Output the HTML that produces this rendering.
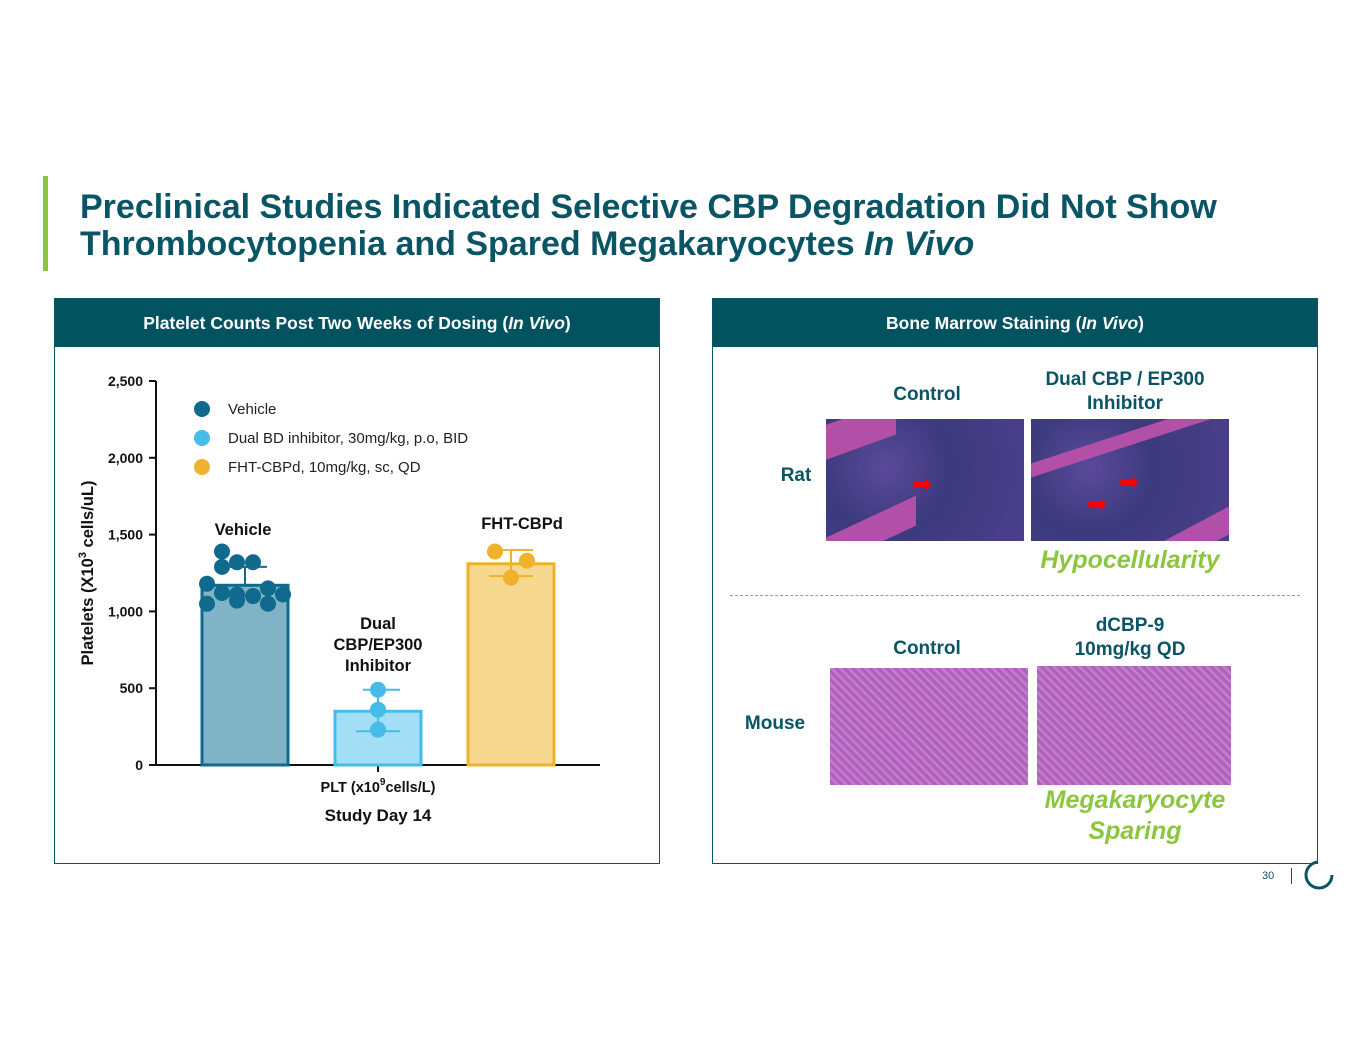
<!DOCTYPE html>
<html><head><meta charset="utf-8"><style>
body{margin:0;width:1365px;height:1055px;background:#fff;font-family:"Liberation Sans",sans-serif;position:relative;overflow:hidden}
.abs{position:absolute}
.title{left:80px;top:189px;font-size:34px;font-weight:bold;color:#0a5565;line-height:37px;white-space:nowrap}
.panel{border:1.5px solid #0a5565;box-sizing:border-box}
.hdr{background:#03525f;color:#fff;font-weight:bold;font-size:17.5px;text-align:center;line-height:48px}
.lbl{color:#0a5565;font-weight:bold;font-size:19px;text-align:center;line-height:24px}
.green{color:#8cc63f;font-weight:bold;font-style:italic;font-size:25px;text-align:center;line-height:31px}
.rat{overflow:hidden;background:radial-gradient(circle at 30% 40%,#5a4a9a 0,#3d3a7e 40%,#4a3f8a 100%)}
.mouse{background:repeating-linear-gradient(45deg,#c277cc 0,#a95ab9 3px,#cf8ad4 6px)}
</style></head><body>
<div class="abs" style="left:43px;top:176px;width:5px;height:95px;background:#8cc63f"></div>
<div class="abs title">Preclinical Studies Indicated Selective CBP Degradation Did Not Show<br>Thrombocytopenia and Spared Megakaryocytes <i>In Vivo</i></div>

<div class="abs panel" style="left:54px;top:298px;width:606px;height:566px">
<div class="hdr">Platelet Counts Post Two Weeks of Dosing (<i>In Vivo</i>)</div>
</div>
<svg class="abs" style="left:0;top:0" width="700" height="870" id="chart" font-family="Liberation Sans, sans-serif"></svg>

<div class="abs panel" style="left:712px;top:298px;width:606px;height:566px">
<div class="hdr">Bone Marrow Staining (<i>In Vivo</i>)</div>
</div>
<div class="abs lbl" style="left:867px;top:383px;width:120px">Control</div>
<div class="abs lbl" style="left:1020px;top:368px;width:210px">Dual CBP / EP300<br>Inhibitor</div>
<div class="abs lbl" style="left:766px;top:464px;width:60px">Rat</div>
<div class="abs rat" style="left:826px;top:419px;width:198px;height:122px"><div style="position:absolute;left:-10px;top:-5px;width:80px;height:35px;background:#b24fa6;transform:skewY(-20deg)"></div><div style="position:absolute;left:-10px;bottom:-8px;width:100px;height:30px;background:#b24fa6;transform:skewY(-25deg)"></div><div style="position:absolute;left:86px;top:56px;color:red;font-size:24px;line-height:20px">➡</div></div>
<div class="abs rat" style="left:1031px;top:419px;width:198px;height:122px"><div style="position:absolute;left:-10px;top:12px;width:220px;height:14px;background:#b24fa6;transform:skewY(-18deg)"></div><div style="position:absolute;right:-10px;bottom:-12px;width:90px;height:28px;background:#b24fa6;transform:skewY(-28deg)"></div><div style="position:absolute;left:88px;top:54px;color:red;font-size:24px;line-height:20px">➡</div><div style="position:absolute;left:56px;top:76px;color:red;font-size:24px;line-height:20px">➡</div></div>
<div class="abs green" style="left:1020px;top:545px;width:220px">Hypocellularity</div>
<div class="abs" style="left:730px;top:595px;width:570px;border-top:1.5px dashed #999"></div>
<div class="abs lbl" style="left:867px;top:637px;width:120px">Control</div>
<div class="abs lbl" style="left:1030px;top:614px;width:200px">dCBP-9<br>10mg/kg QD</div>
<div class="abs lbl" style="left:740px;top:712px;width:70px">Mouse</div>
<div class="abs mouse" style="left:830px;top:668px;width:198px;height:117px"></div>
<div class="abs mouse" style="left:1037px;top:666px;width:194px;height:119px"></div>
<div class="abs green" style="left:1020px;top:785px;width:230px">Megakaryocyte<br>Sparing</div>

<div class="abs" style="left:1262px;top:870px;font-size:11px;color:#0a5565">30</div>
<div class="abs" style="left:1291px;top:868px;width:1px;height:16px;background:#0a5565"></div>
<svg class="abs" style="left:1300px;top:858px" width="36" height="34"><circle cx="19" cy="17" r="13" fill="none" stroke="#0a5565" stroke-width="3" stroke-dasharray="60 22"/></svg>

<script>
const categories=["Vehicle","Dual CBP/EP300 Inhibitor","FHT-CBPd"];
const means=[1170,350,1310];
const errLow=[1170,220,1230];
const errHigh=[1290,490,1400];
const vehiclePts=[1390,1290,1320,1320,1180,1120,1110,1100,1150,1110,1050,1070,1050];
const dualPts=[490,360,230];
const fhtPts=[1390,1330,1220];
const yTicks=[0,500,1000,1500,2000,2500];
const yTickLabels=["0","500","1,000","1,500","2,000","2,500"];
const NS="http://www.w3.org/2000/svg",svg=document.getElementById('chart');
const y0=765,yTop=381,yMax=2500;
const y=v=>y0-(v/yMax)*(y0-yTop);
const cx=[245,378,511],bw=[86,86,86];
const strokes=["#0f6a8e","#45bde8","#f0b22c"],fills=["#80b3c6","#a2dff5","#f7d88f"],pcol=["#0f6a8e","#45bde8","#f0b22c"];
function mk(t,a,txt){const e=document.createElementNS(NS,t);for(const k in a)e.setAttribute(k,a[k]);if(txt!=null)e.textContent=txt;svg.appendChild(e);return e;}
let e;
e=mk('line',{x1:156,y1:yTop,x2:156,y2:y0,stroke:'#111','stroke-width':2});


e=mk('line',{x1:155,y1:y0,x2:600,y2:y0,stroke:'#111','stroke-width':2});


mk('line',{x1:378,y1:y0,x2:378,y2:y0+7,stroke:'#111','stroke-width':2});
yTicks.forEach((v,i)=>{
 mk('line',{x1:149,y1:y(v),x2:156,y2:y(v),stroke:'#111','stroke-width':2});
 e=mk('text',{x:143,y:y(v)+5,'text-anchor':'end','font-size':14,'font-weight':'bold',fill:'#111'},yTickLabels[i]);
 
 
});
e=mk('text',{transform:'translate(93,573) rotate(-90)','text-anchor':'middle','font-size':16.5,'font-weight':'bold',fill:'#111'});
e.innerHTML='Platelets  (X10<tspan dy="-7" font-size="11">3</tspan><tspan dy="7"> cells/uL)</tspan>';


const pts=[vehiclePts,dualPts,fhtPts];
const offs=[[-23,-23,-8,8,-38,-23,-8,8,23,38,-38,-8,23],[0,0,0],[-16,16,0]];
means.forEach((m,i)=>{
 e=mk('rect',{x:cx[i]-bw[i]/2,y:y(m),width:bw[i],height:y0-y(m),fill:fills[i],stroke:strokes[i],'stroke-width':3});
 
 
 mk('line',{x1:cx[i],y1:y(errLow[i]),x2:cx[i],y2:y(errHigh[i]),stroke:strokes[i],'stroke-width':2});
 mk('line',{x1:cx[i]-15,y1:y(errHigh[i]),x2:cx[i]+22,y2:y(errHigh[i]),stroke:strokes[i],'stroke-width':2});
 if(i>0)mk('line',{x1:cx[i]-22,y1:y(errLow[i]),x2:cx[i]+22,y2:y(errLow[i]),stroke:strokes[i],'stroke-width':2});
 pts[i].forEach((v,j)=>{
  e=mk('circle',{cx:cx[i]+(offs[i][j]||0),cy:y(v),r:8,fill:pcol[i]});
  
  
 });
});
[["Vehicle",243,535],["FHT-CBPd",522,529]].forEach(a=>{e=mk('text',{x:a[1],y:a[2],'text-anchor':'middle','font-size':16.5,'font-weight':'bold',fill:'#111'},a[0]);});
["Dual","CBP/EP300","Inhibitor"].forEach((t,k)=>{e=mk('text',{x:378,y:629+k*21,'text-anchor':'middle','font-size':16.5,'font-weight':'bold',fill:'#111'},t);});
e=mk('text',{x:378,y:792,'text-anchor':'middle','font-size':14.5,'font-weight':'bold',fill:'#111'});
e.innerHTML='PLT (x10<tspan dy="-7" font-size="10">9</tspan><tspan dy="7">cells/L)</tspan>';


e=mk('text',{x:378,y:821,'text-anchor':'middle','font-size':17,'font-weight':'bold',fill:'#111'},'Study Day 14');


const legend=["Vehicle","Dual BD inhibitor, 30mg/kg, p.o, BID","FHT-CBPd, 10mg/kg, sc, QD"];
legend.forEach((t,i)=>{
 mk('circle',{cx:202,cy:409+i*29,r:8,fill:pcol[i]});
 e=mk('text',{x:228,y:414+i*29,'font-size':15,fill:'#222'},t);
 
 
});
</script>
</body></html>
